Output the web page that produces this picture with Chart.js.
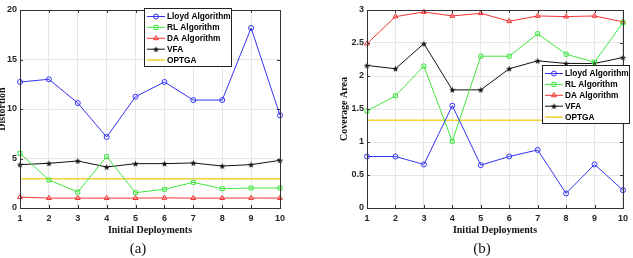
<!DOCTYPE html>
<html>
<head>
<meta charset="utf-8">
<script src="https://cdn.jsdelivr.net/npm/chart.js@4.4.1/dist/chart.umd.min.js"></script>
<style>
  body { margin: 0; background: #fff; width: 633px; height: 258px; overflow: hidden; position: relative; }
  #boxA { position: absolute; left: -4px; top: 0; }
  #boxB { position: absolute; left: 320px; top: 0; }
</style>
</head>
<body>
<div id="boxA"><canvas id="distChart" width="320" height="258"></canvas></div>
<div id="boxB"><canvas id="coverChart" width="313" height="258"></canvas></div>
<script>
// values
var deployments = ['1', '2', '3', '4', '5', '6', '7', '8', '9', '10'];

var lloydDistortion = [12.73, 13.0, 10.6, 7.17, 11.25, 12.73, 10.9, 10.9, 18.18, 9.36];
var rlDistortion    = [5.52, 2.83, 1.62, 5.19, 1.55, 1.89, 2.59, 1.95, 2.02, 2.02];
var daDistortion    = [1.1, 1.0, 1.0, 1.0, 1.0, 1.02, 1.0, 1.0, 1.01, 1.0];
var vfaDistortion   = [4.38, 4.51, 4.75, 4.14, 4.48, 4.48, 4.55, 4.24, 4.38, 4.81];
var optgaDistortion = [2.95, 2.95, 2.95, 2.95, 2.95, 2.95, 2.95, 2.95, 2.95, 2.95];

var lloydCoverage = [0.78, 0.78, 0.66, 1.55, 0.65, 0.78, 0.88, 0.22, 0.66, 0.27];
var rlCoverage    = [1.47, 1.70, 2.15, 1.01, 2.30, 2.30, 2.64, 2.33, 2.21, 2.81];
var daCoverage    = [2.49, 2.90, 2.97, 2.91, 2.95, 2.83, 2.91, 2.90, 2.91, 2.82];
var vfaCoverage   = [2.16, 2.11, 2.49, 1.79, 1.79, 2.11, 2.23, 2.19, 2.19, 2.28];
var optgaCoverage = [1.33, 1.33, 1.33, 1.33, 1.33, 1.33, 1.33, 1.33, 1.33, 1.33];

var seriesNames = ['Lloyd Algorithm', 'RL Algorithm', 'DA Algorithm', 'VFA', 'OPTGA'];
var seriesColors = ['#3434f4', '#3fe63f', '#f43434', '#111111', '#f2d23c'];

Chart.defaults.font.family = '"Liberation Sans", Arial, sans-serif';
Chart.defaults.color = '#262626';

// filled five point star for the VFA marker
var star = document.createElement('canvas');
star.width = 7; star.height = 7;
(function () {
  var c = star.getContext('2d');
  c.fillStyle = '#111';
  c.beginPath();
  for (var k = 0; k < 10; k++) {
    var r = k % 2 === 0 ? 3.4 : 1.4;
    var a = -Math.PI / 2 + k * Math.PI / 5;
    c.lineTo(3.5 + r * Math.cos(a), 3.8 + r * Math.sin(a));
  }
  c.closePath();
  c.fill();
})();

var markers = [
  { style: 'circle', radius: 2.5 },
  { style: 'rect', radius: 2.8 },
  { style: 'triangle', radius: 2.8 },
  { style: star, radius: 3.5 },
  { style: 'circle', radius: 0 }
];

function buildSets(values) {
  return values.map(function (v, i) {
    return {
      label: seriesNames[i],
      data: v,
      borderColor: seriesColors[i],
      backgroundColor: seriesColors[i],
      borderWidth: i === 4 ? 1.6 : 1,
      pointStyle: markers[i].style,
      pointRadius: markers[i].radius,
      pointBorderWidth: 1,
      pointBackgroundColor: 'rgba(0,0,0,0)',
      pointBorderColor: seriesColors[i],
      tension: 0,
      clip: false
    };
  });
}

// box + inward ticks like the original, then the boxed legend on top
var framePlugin = {
  id: 'boxLegend',
  afterDatasetsDraw: function (chart, args, opts) {
    var ctx = chart.ctx, a = chart.chartArea;
    var xs = chart.scales.x, ys = chart.scales.y;
    ctx.save();
    ctx.strokeStyle = '#333';
    ctx.lineWidth = 1;
    ctx.strokeRect(Math.round(a.left) + 0.5, Math.round(a.top) + 0.5,
      Math.round(a.right - a.left), Math.round(a.bottom - a.top));
    ctx.beginPath();
    xs.ticks.forEach(function (t, i) {
      var px = Math.round(xs.getPixelForTick(i)) + 0.5;
      ctx.moveTo(px, a.bottom); ctx.lineTo(px, a.bottom - 3);
      ctx.moveTo(px, a.top); ctx.lineTo(px, a.top + 3);
    });
    ys.ticks.forEach(function (t) {
      var py = Math.round(ys.getPixelForValue(t.value)) + 0.5;
      ctx.moveTo(a.left, py); ctx.lineTo(a.left + 3, py);
      ctx.moveTo(a.right, py); ctx.lineTo(a.right - 3, py);
    });
    ctx.stroke();

    var left = Math.round(a.left + opts.x), top = Math.round(a.top + opts.y);
    var w = 87, h = 58;
    ctx.fillStyle = '#fff';
    ctx.fillRect(left, top, w, h);
    ctx.strokeStyle = '#222';
    ctx.strokeRect(left + 0.5, top + 0.5, w, h);
    ctx.font = 'bold 8.3px "Liberation Sans", Arial, sans-serif';
    ctx.textBaseline = 'middle';
    chart.data.datasets.forEach(function (ds, i) {
      var y = top + 8.5 + i * 10.9;
      ctx.strokeStyle = ds.borderColor;
      ctx.lineWidth = ds.borderWidth;
      ctx.beginPath();
      ctx.moveTo(left + 3, y); ctx.lineTo(left + 21, y);
      ctx.stroke();
      if (ds.pointRadius > 0) {
        ctx.lineWidth = 1;
        ctx.fillStyle = 'rgba(0,0,0,0)';
        Chart.helpers.drawPoint(ctx, { pointStyle: ds.pointStyle, radius: ds.pointRadius, borderWidth: 1, rotation: 0 }, left + 12, y);
      }
      ctx.fillStyle = '#000';
      ctx.fillText(ds.label, left + 23, y + 0.5);
    });
    ctx.restore();
  }
};

function makeChart(id, values, opt) {
  return new Chart(document.getElementById(id), {
    type: 'line',
    data: { labels: deployments, datasets: buildSets(values) },
    plugins: [framePlugin],
    options: {
      responsive: false,
      animation: false,
      events: [],
      layout: { padding: { left: opt.padLeft, right: opt.padRight, top: 10, bottom: 0 } },
      plugins: {
        legend: { display: false },
        tooltip: { enabled: false },
        title: {
          display: true, position: 'bottom', text: opt.caption, color: '#111',
          font: { family: '"Liberation Serif", "Times New Roman", serif', size: 15, weight: 'normal', lineHeight: 1.2 },
          padding: { top: 0, bottom: 0 }
        },
        boxLegend: opt.legendAt
      },
      scales: {
        x: {
          offset: false,
          grid: { color: '#e6e6e6', drawTicks: false },
          border: { color: '#333' },
          ticks: { padding: 5, font: { size: 9, weight: 'bold' }, maxRotation: 0 },
          title: {
            display: true, text: 'Initial Deployments', color: '#111',
            font: { family: '"Liberation Serif", "Times New Roman", serif', size: 10, weight: 'bold', lineHeight: 1.2 },
            padding: { top: 0, bottom: 4 }
          },
          afterFit: function (s) { s.height = 32; }
        },
        y: {
          min: 0, max: opt.yMax,
          grid: { color: '#e6e6e6', drawTicks: false },
          border: { color: '#333' },
          ticks: {
            stepSize: opt.yStep, padding: 3, font: { size: 9, weight: 'bold' },
            callback: function (v) { return String(Math.round(v * 100) / 100); }
          },
          title: {
            display: true, text: opt.yTitle, color: '#111',
            font: { family: '"Liberation Serif", "Times New Roman", serif', size: 10, weight: 'bold', lineHeight: 1.2 },
            padding: { top: 0, bottom: 0 }
          },
          afterFit: function (s) { s.width = opt.yWidth; }
        }
      }
    }
  });
}

makeChart('distChart',
  [lloydDistortion, rlDistortion, daDistortion, vfaDistortion, optgaDistortion],
  { padLeft: 0, padRight: 36, yWidth: 24, yMax: 20, yStep: 5, yTitle: 'Distortion', caption: '(a)', legendAt: { x: 124, y: -1.7 } });

makeChart('coverChart',
  [lloydCoverage, rlCoverage, daCoverage, vfaCoverage, optgaCoverage],
  { padLeft: 18, padRight: 7, yWidth: 29, yMax: 3, yStep: 0.5, yTitle: 'Coverage Area', caption: '(b)', legendAt: { x: 174.7, y: 55 } });
</script>
</body>
</html>
